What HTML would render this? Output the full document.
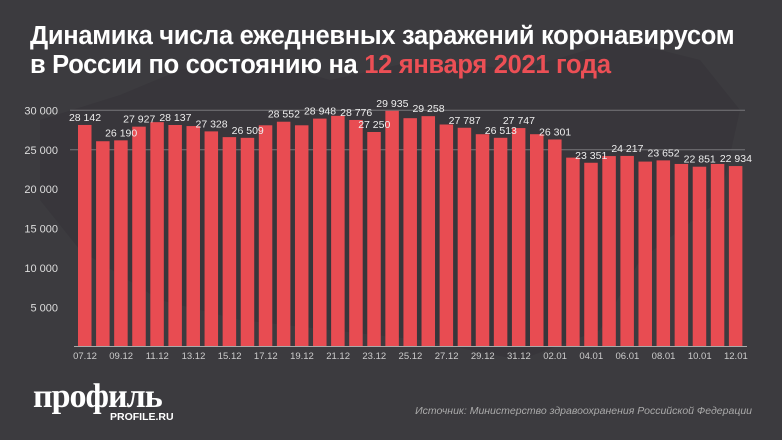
<!DOCTYPE html>
<html><head><meta charset="utf-8"><style>
body{margin:0;width:782px;height:440px;background:#3c3b3f;overflow:hidden;font-family:"Liberation Sans",sans-serif}
h1{position:absolute;left:30px;top:22px;margin:0;font-size:25.5px;line-height:29px;color:#fff;font-weight:bold;letter-spacing:-0.3px;z-index:2;white-space:nowrap}
h1 span{color:#ec4f55}
</style></head><body>
<svg width="782" height="440" style="position:absolute;left:0;top:0">
<path d="M40 120 L120 95 L180 70 L260 60 L330 80 L420 60 L520 70 L620 40 L700 60 L740 110 L720 200 L640 260 L600 330 L520 360 L420 340 L330 330 L240 320 L160 300 L80 250 L40 200 Z" fill="#353438" opacity="0.6"/>
<g id="g"></g>
</svg>
<h1>Динамика числа ежедневных заражений коронавирусом<br>в России по состоянию на <span>12 января 2021 года</span></h1>
<div style="position:absolute;left:33px;top:380px;color:#fff;font-family:'Liberation Serif',serif;font-weight:bold;font-size:34px;letter-spacing:-1px;line-height:34px">профиль</div>
<div style="position:absolute;left:110px;top:411px;color:#fff;font-weight:bold;font-size:10.5px">PROFILE.RU</div>
<div style="position:absolute;right:30px;top:405px;color:#aaa;font-style:italic;font-size:10.5px">Источник: Министерство здравоохранения Российской Федерации</div>
<script>
const v=[28142,26080,26190,27927,28500,28137,28000,27328,26600,26509,28100,28552,28100,28948,29300,28776,27250,29935,29000,29258,28200,27787,26970,26513,27747,26970,26301,24000,23351,24200,24217,23500,23652,23200,22851,23200,22934];
const lab=[28142,0,26190,27927,0,28137,0,27328,0,26509,0,28552,0,28948,0,28776,27250,29935,0,29258,0,27787,0,26513,27747,0,26301,0,23351,0,24217,0,23652,0,22851,0,22934];
const y=x=>347-x*0.00789;let s='',t2='';
for(let k=1;k<=6;k++){const yy=y(k*5000);const lbl=(k*5)+' 000';
if(k>=5)s+=`<line x1="70" x2="745" y1="${yy}" y2="${yy}" stroke="#77767a" stroke-width="1"/>`;
s+=`<text x="58" y="${yy+4}" fill="#ddd" font-size="11" text-anchor="end">${lbl}</text>`;}
v.forEach((d,i)=>{const x=78+i*18.08;s+=`<rect x="${x}" y="${y(d)}" width="13.5" height="${347-y(d)}" fill="#e84c52"/>`;
if(lab[i])t2+=`<text x="${x+7}" y="${y(d)-4}" fill="#eee" font-size="10.5" text-anchor="middle">${String(lab[i]).replace(/(\d\d)(\d{3})/,'$1 $2')}</text>`;
if(i%2==0){const dt=new Date(2020,11,7+i);const t=String(dt.getDate()).padStart(2,'0')+'.'+String(dt.getMonth()+1).padStart(2,'0');
s+=`<text x="${x+7}" y="359" fill="#ccc" font-size="9.5" text-anchor="middle">${t}</text>`;}});
s+=`<line x1="74" x2="747" y1="346.5" y2="346.5" stroke="#aaa"/>`;
document.getElementById('g').innerHTML=s+t2;
</script>
</body></html>
